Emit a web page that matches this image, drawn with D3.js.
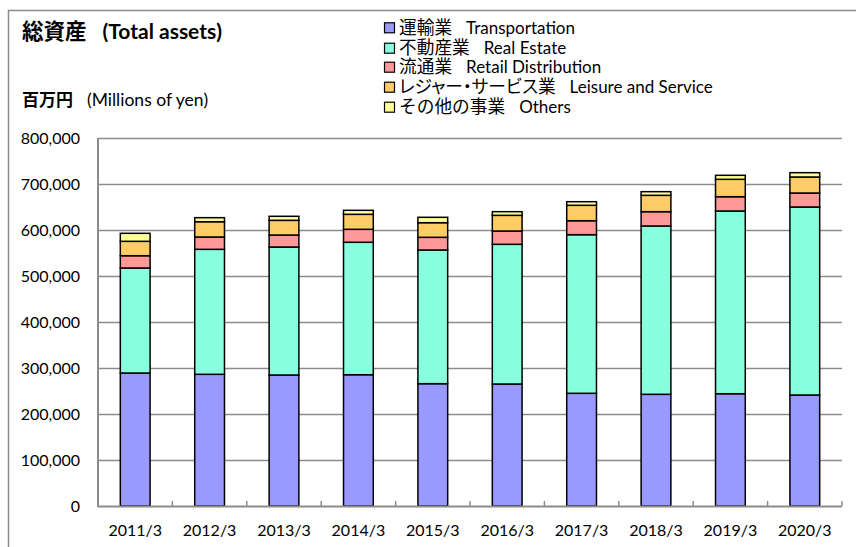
<!DOCTYPE html>
<html>
<head>
<meta charset="utf-8">
<script src="https://cdn.jsdelivr.net/npm/d3@7"></script>
<style>
  html, body { margin: 0; padding: 0; background: #fff; }
  svg { display: block; }
  text { font-family: Lato, "Noto Sans CJK JP", sans-serif; fill: #000; }
</style>
</head>
<body>
<svg id="chart" width="856" height="547"></svg>
<script>
const categories = ["2011/3","2012/3","2013/3","2014/3","2015/3","2016/3","2017/3","2018/3","2019/3","2020/3"];
const transportation = [289100, 286300, 284800, 285400, 265900, 265200, 245000, 242800, 244100, 241300];
const realEstate     = [228300, 271700, 278200, 287900, 290600, 303700, 344800, 365900, 397200, 408700];
const retail         = [26700, 26800, 26100, 28200, 27600, 28900, 30400, 31100, 31100, 30400];
const leisure        = [31300, 33200, 31900, 32600, 31800, 34100, 33500, 35600, 37800, 34800];
const others         = [17400, 8800, 8800, 8700, 11700, 7900, 7800, 7900, 8700, 9400];
const yTicks = [0, 100000, 200000, 300000, 400000, 500000, 600000, 700000, 800000];
const seriesNames = [
  ["運輸業", "Transportation"],
  ["不動産業", "Real Estate"],
  ["流通業", "Retail Distribution"],
  ["レジャー・サービス業", "Leisure and Service"],
  ["その他の事業", "Others"]
];
const seriesKeys = ["t", "r", "d", "l", "o"];
const colors = ["#9999FF", "#88FFDD", "#FF9999", "#FFCC66", "#FFFF99"];

const rows = categories.map((c, i) => ({
  cat: c, t: transportation[i], r: realEstate[i], d: retail[i], l: leisure[i], o: others[i]
}));

const svg = d3.select("#chart");

// outer frame (top & left visible)
svg.append("path")
  .attr("d", "M8.5,547 L8.5,10.5 L856,10.5")
  .attr("fill", "none").attr("stroke", "#8c8c8c").attr("stroke-width", 1.5);

const pLeft = 98, pRight = 842, pTop = 138, pBottom = 506;
const x = d3.scaleBand().domain(categories).range([pLeft, pRight]).paddingInner(0.6).paddingOuter(0.3);
const y = d3.scaleLinear().domain([0, 800000]).range([pBottom, pTop]);

// gridlines
svg.append("g").selectAll("line").data(yTicks.filter(v => v > 0)).join("line")
  .attr("x1", pLeft).attr("x2", pRight)
  .attr("y1", d => y(d) + 0.5).attr("y2", d => y(d) + 0.5)
  .attr("stroke", "#8c8c8c").attr("stroke-width", 1.5);

// y labels
svg.append("g").selectAll("text").data(yTicks).join("text")
  .attr("x", 80).attr("y", d => y(d))
  .attr("dy", "0.36em")
  .attr("text-anchor", "end")
  .style("font-size", "16px")
  .text(d => d3.format(",")(d));

// stacked bars
const stack = d3.stack().keys(seriesKeys)(rows);
const gBars = svg.append("g");
stack.forEach((layer, si) => {
  gBars.append("g").selectAll("rect").data(layer).join("rect")
    .attr("x", d => x(d.data.cat))
    .attr("width", x.bandwidth())
    .attr("y", d => y(d[1]))
    .attr("height", d => y(d[0]) - y(d[1]))
    .attr("fill", colors[si])
    .attr("stroke", "#000")
    .attr("stroke-width", 1.5);
});

// y axis line
svg.append("line")
  .attr("x1", pLeft).attr("x2", pLeft).attr("y1", pTop).attr("y2", pBottom + 1)
  .attr("stroke", "#8c8c8c").attr("stroke-width", 2);

// x axis line and ticks
svg.append("line")
  .attr("x1", pLeft).attr("x2", pRight).attr("y1", pBottom + 0.5).attr("y2", pBottom + 0.5)
  .attr("stroke", "#8c8c8c").attr("stroke-width", 2);
const step = x.step();
const tickPos = d3.range(1, categories.length + 1).map(k => pLeft + k * step);
svg.append("g").selectAll("line").data(tickPos).join("line")
  .attr("x1", d => d).attr("x2", d => d)
  .attr("y1", pBottom - 5).attr("y2", pBottom)
  .attr("stroke", "#8c8c8c").attr("stroke-width", 1.5);

// x labels
svg.append("g").selectAll("text").data(categories).join("text")
  .attr("x", d => x(d) + x.bandwidth() / 2)
  .attr("y", 536)
  .attr("text-anchor", "middle")
  .style("font-size", "16px")
  .text(d => d);

// title
const title = svg.append("text").attr("x", 22).attr("y", 39).style("font-weight", "bold");
title.append("tspan").style("font-size", "21.5px").text("総資産");
title.append("tspan").attr("dx", 16).style("font-size", "21px").text("(Total assets)");

// units
const unit = svg.append("text").attr("x", 22).attr("y", 106);
unit.append("tspan").style("font-size", "17px").style("font-weight", "bold").text("百万円");
unit.append("tspan").attr("dx", 14).style("font-size", "17.5px").text("(Millions of yen)");

// legend
const legendY = [28.3, 48.7, 67.7, 87.7, 107.7];
const lg = svg.append("g");
seriesNames.forEach((n, i) => {
  lg.append("rect")
    .attr("x", 384.5).attr("y", legendY[i] - 5.5)
    .attr("width", 10).attr("height", 10)
    .attr("fill", colors[i]).attr("stroke", "#000").attr("stroke-width", 1.2);
  const t = lg.append("text").attr("x", 399).attr("y", legendY[i]).attr("dy", "0.36em");
  t.append("tspan").style("font-size", "17.7px")
    .style("font-feature-settings", i === 3 ? "'palt' 1" : "normal")
    .text(n[0]);
  t.append("tspan").attr("dx", 14).style("font-size", "17px").text(n[1]);
});
</script>
</body>
</html>
